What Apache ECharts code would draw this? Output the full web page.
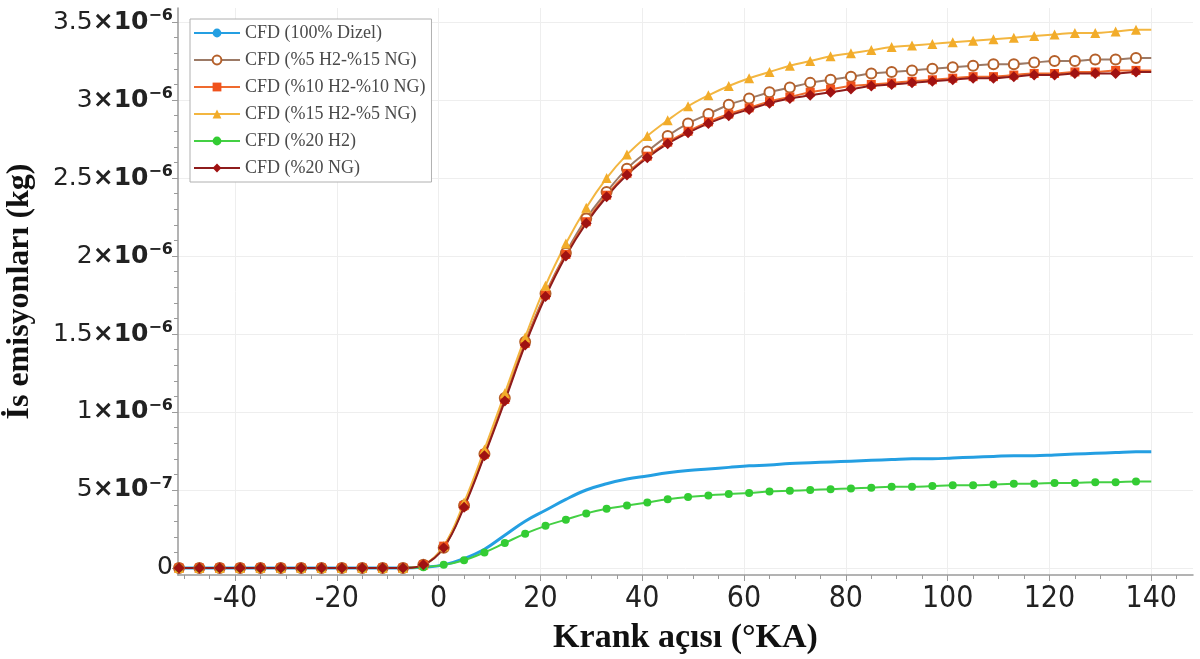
<!DOCTYPE html>
<html>
<head>
<meta charset="utf-8">
<script src="https://cdn.jsdelivr.net/npm/echarts@6/dist/echarts.min.js"></script>
<style>
  html, body { margin: 0; padding: 0; background: #fff; }
  #chart { width: 1200px; height: 659px; }
</style>
</head>
<body>
<div id="chart"></div>
<script>
// crank angle samples (°KA); markers sit on every sample but the last
const crankAngles = [-51, -47, -43, -39, -35, -31, -27, -23, -19, -15, -11, -7, -3,
  1, 5, 9, 13, 17, 21, 25, 29, 33, 37, 41, 45, 49, 53, 57, 61, 65, 69, 73, 77, 81, 85,
  89, 93, 97, 101, 105, 109, 113, 117, 121, 125, 129, 133, 137, 140];

// soot mass, ×10⁻⁶ kg
const diesel100 = [0, 0, 0, 0, 0, 0, 0, 0, 0, 0, 0, 0, 0.005,
  0.02, 0.06, 0.12, 0.21, 0.30, 0.37, 0.44, 0.50, 0.54, 0.57, 0.59, 0.61, 0.625, 0.635,
  0.645, 0.655, 0.66, 0.67, 0.675, 0.68, 0.685, 0.69, 0.695, 0.70, 0.70, 0.705, 0.71,
  0.715, 0.72, 0.72, 0.725, 0.73, 0.735, 0.74, 0.745, 0.745];
const h2_5_ng15 = [0, 0, 0, 0, 0, 0, 0, 0, 0, 0, 0, 0, 0.02,
  0.13, 0.40, 0.73, 1.09, 1.45, 1.76, 2.02, 2.24, 2.41, 2.56, 2.67, 2.77, 2.85, 2.91,
  2.97, 3.01, 3.05, 3.08, 3.11, 3.13, 3.15, 3.17, 3.18, 3.19, 3.20, 3.21, 3.22,
  3.23, 3.23, 3.24, 3.25, 3.25, 3.26, 3.26, 3.27, 3.27];
const h2_10_ng10 = [0, 0, 0, 0, 0, 0, 0, 0, 0, 0, 0, 0, 0.02,
  0.14, 0.40, 0.73, 1.08, 1.44, 1.75, 2.01, 2.22, 2.39, 2.53, 2.64, 2.73, 2.80, 2.86,
  2.91, 2.95, 2.99, 3.02, 3.05, 3.07, 3.09, 3.10, 3.11, 3.12, 3.13, 3.14, 3.15,
  3.15, 3.16, 3.17, 3.17, 3.18, 3.18, 3.19, 3.19, 3.19];
const h2_15_ng5 = [0, 0, 0, 0, 0, 0, 0, 0, 0, 0, 0, 0, 0.02,
  0.14, 0.42, 0.76, 1.12, 1.48, 1.81, 2.08, 2.31, 2.50, 2.65, 2.77, 2.87, 2.96, 3.03,
  3.09, 3.14, 3.18, 3.22, 3.25, 3.28, 3.30, 3.32, 3.34, 3.35, 3.36, 3.37, 3.38,
  3.39, 3.40, 3.41, 3.42, 3.43, 3.43, 3.44, 3.45, 3.45];
const h2_20 = [0, 0, 0, 0, 0, 0, 0, 0, 0, 0, 0, 0, 0.005,
  0.02, 0.05, 0.10, 0.16, 0.22, 0.27, 0.31, 0.35, 0.38, 0.40, 0.42, 0.44, 0.455, 0.465,
  0.475, 0.48, 0.49, 0.495, 0.50, 0.505, 0.51, 0.515, 0.52, 0.52, 0.525, 0.53, 0.53,
  0.535, 0.54, 0.54, 0.545, 0.545, 0.55, 0.55, 0.555, 0.555];
const ng20 = [0, 0, 0, 0, 0, 0, 0, 0, 0, 0, 0, 0, 0.02,
  0.13, 0.39, 0.72, 1.07, 1.43, 1.74, 2.00, 2.21, 2.38, 2.52, 2.63, 2.72, 2.79, 2.85,
  2.90, 2.94, 2.98, 3.01, 3.03, 3.05, 3.07, 3.09, 3.10, 3.11, 3.12, 3.13, 3.14,
  3.14, 3.15, 3.16, 3.16, 3.17, 3.17, 3.17, 3.18, 3.18];

const seriesNames = ["CFD (100% Dizel)", "CFD (%5 H2-%15 NG)", "CFD (%10 H2-%10 NG)",
  "CFD (%15 H2-%5 NG)", "CFD (%20 H2)", "CFD (%20 NG)"];

const xTicks = [-40, -20, 0, 20, 40, 60, 80, 100, 120, 140];
const xMinorTicks = [-50, -45, -35, -30, -25, -15, -10, -5, 5, 10, 15, 25, 30, 35, 45, 50,
  55, 65, 70, 75, 85, 90, 95, 105, 110, 115, 125, 130, 135, 145];
const yTicks = [0, 0.5, 1, 1.5, 2, 2.5, 3, 3.5];
const yMinorTicks = [0.1, 0.2, 0.3, 0.4, 0.6, 0.7, 0.8, 0.9, 1.1, 1.2, 1.3, 1.4, 1.6, 1.7,
  1.8, 1.9, 2.1, 2.2, 2.3, 2.4, 2.6, 2.7, 2.8, 2.9, 3.1, 3.2, 3.3, 3.4, 3.5];

const X_MIN = -51.2, X_MAX = 148.2, Y_MIN = -0.045, Y_MAX = 3.59;

function pairs(values, marked) {
  return crankAngles.map((x, i) => {
    const last = i === crankAngles.length - 1;
    return marked && last ? { value: [x, values[i]], symbolSize: 0 } : [x, values[i]];
  });
}

function yLabel(v) {
  if (v === 0) return "{m|0}";
  if (v < 1) return "{m|" + v * 10 + "}{x|×10}{s|−7}";
  return "{m|" + v + "}{x|×10}{s|−6}";
}

const axisGray = "#9a9a9a";

const chart = echarts.init(document.getElementById("chart"), null, { renderer: "canvas" });

chart.setOption({
  backgroundColor: "#fff",
  animation: false,
  grid: { left: 178, right: 7, top: 8, bottom: 84, containLabel: false, outerBoundsMode: "none" },
  legend: {
    orient: "vertical",
    left: 190,
    top: 19,
    selectedMode: false,
    backgroundColor: "#fff",
    borderColor: "#b0b0b0",
    borderWidth: 1,
    padding: [5, 6, 5, 3],
    itemWidth: 46,
    itemHeight: 11,
    itemGap: 9,
    textStyle: { fontFamily: "Liberation Serif", fontSize: 18, color: "#4a4a4a" },
    data: seriesNames
  },
  xAxis: [
    {
      type: "value",
      min: X_MIN,
      max: X_MAX,
      name: "Krank açısı (°KA)",
      nameLocation: "middle",
      nameGap: 46,
      nameTextStyle: { fontFamily: "Liberation Serif", fontWeight: "bold", fontSize: 34, color: "#111" },
      axisLine: { onZero: false, lineStyle: { color: axisGray, width: 1.5 } },
      axisTick: { customValues: xTicks, length: 6, lineStyle: { color: axisGray } },
      axisLabel: {
        customValues: xTicks,
        margin: 9,
        fontFamily: "Liberation Sans Narrow, DejaVu Sans Condensed, sans-serif",
        fontSize: 30,
        color: "#222"
      },
      splitLine: { show: true, lineStyle: { color: "#eeeeee", width: 1 } }
    },
    {
      type: "value",
      min: X_MIN,
      max: X_MAX,
      position: "bottom",
      axisLine: { show: false, onZero: false },
      axisTick: { customValues: xMinorTicks, length: 4, lineStyle: { color: axisGray } },
      axisLabel: { show: false },
      splitLine: { show: false }
    }
  ],
  yAxis: [
    {
      type: "value",
      min: Y_MIN,
      max: Y_MAX,
      name: "İs emisyonları (kg)",
      nameLocation: "middle",
      nameGap: 142,
      nameTextStyle: { fontFamily: "Liberation Serif", fontWeight: "bold", fontSize: 32, color: "#111" },
      axisLine: { show: true, onZero: false, lineStyle: { color: axisGray, width: 1.5 } },
      axisTick: { show: true, customValues: yTicks, length: 6, lineStyle: { color: axisGray } },
      axisLabel: {
        customValues: yTicks,
        margin: 5,
        formatter: yLabel,
        rich: {
          m: { fontFamily: "DejaVu Sans", fontSize: 25, color: "#222" },
          x: { fontFamily: "DejaVu Sans", fontSize: 25, fontWeight: "bold", color: "#222" },
          s: { fontFamily: "DejaVu Sans", fontSize: 16, fontWeight: "bold", color: "#222", padding: [0, 0, 12, 0] }
        }
      },
      splitLine: { show: true, lineStyle: { color: "#eeeeee", width: 1 } }
    },
    {
      type: "value",
      min: Y_MIN,
      max: Y_MAX,
      position: "left",
      axisLine: { show: false, onZero: false },
      axisTick: { show: true, customValues: yMinorTicks, length: 4, lineStyle: { color: axisGray } },
      axisLabel: { show: false },
      splitLine: { show: false }
    }
  ],
  series: [
    {
      name: seriesNames[0],
      type: "line",
      smooth: 0.4,
      showSymbol: false,
      symbol: "none",
      lineStyle: { color: "#249fe2", width: 3 },
      itemStyle: { color: "#249fe2" },
      data: pairs(diesel100, false)
    },
    {
      name: seriesNames[1],
      type: "line",
      smooth: 0.4,
      symbol: "emptyCircle",
      symbolSize: 10,
      showAllSymbol: true,
      lineStyle: { color: "#9c7a66", width: 2 },
      itemStyle: { color: "#b5602a", borderWidth: 1.5 },
      data: pairs(h2_5_ng15, true)
    },
    {
      name: seriesNames[2],
      type: "line",
      smooth: 0.4,
      symbol: "rect",
      symbolSize: 9,
      showAllSymbol: true,
      lineStyle: { color: "#ef6a2e", width: 2 },
      itemStyle: { color: "#f0521c" },
      data: pairs(h2_10_ng10, true)
    },
    {
      name: seriesNames[3],
      type: "line",
      smooth: 0.4,
      symbol: "triangle",
      symbolSize: 10,
      showAllSymbol: true,
      lineStyle: { color: "#f3b640", width: 2 },
      itemStyle: { color: "#f2ac2a" },
      data: pairs(h2_15_ng5, true)
    },
    {
      name: seriesNames[4],
      type: "line",
      smooth: 0.4,
      symbol: "circle",
      symbolSize: 8,
      showAllSymbol: true,
      lineStyle: { color: "#44d044", width: 2 },
      itemStyle: { color: "#33cc33" },
      data: pairs(h2_20, true)
    },
    {
      name: seriesNames[5],
      type: "line",
      smooth: 0.4,
      symbol: "diamond",
      symbolSize: 11,
      showAllSymbol: true,
      lineStyle: { color: "#8e1c1c", width: 2 },
      itemStyle: { color: "#a01212" },
      data: pairs(ng20, true)
    }
  ]
});
</script>
</body>
</html>
